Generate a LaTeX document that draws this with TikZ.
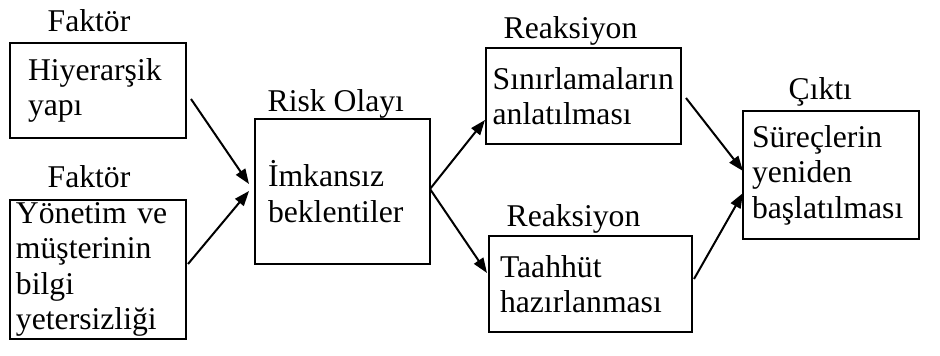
\documentclass[tikz,border=0pt]{standalone}
\usepackage{fontspec}
\setmainfont{Liberation Serif}
\usetikzlibrary{arrows.meta}
\begin{document}
\begin{tikzpicture}[
            x=0.3pt, y=-0.3pt,
            kutu/.style={rectangle, draw=black, line width=0.6pt, anchor=north west, align=left, inner ysep=0pt, font=\fontsize{9.5}{10.65}\selectfont},
            baslik/.style={anchor=base west, inner sep=0pt, font=\fontsize{9.5}{10.65}\selectfont},
            ok/.style={-{Triangle[length=4.5pt, width=3.3pt]}, line width=0.6pt},
        ]
            \useasboundingbox (0,0) rectangle (940,356);

            %Nodes
            \node[kutu, inner xsep=5.4pt, text width=42pt, minimum height=28.5pt] (hiy) at (9,42) {Hiyerarşik\\yapı};
            \node[kutu, inner xsep=1.8pt, text width=49.2pt, minimum height=41.7pt] (bilgi) at (9,199) {Yönetim ve\\müşterinin\\bilgi\\yetersizliği};

            \node[kutu, inner xsep=3.9pt, text width=44.7pt, minimum height=43.5pt] (risk) at (254,118) {İmkansız\\beklentiler};

            \node[kutu, inner xsep=2pt, text width=54.5pt, minimum height=28.8pt] (sinir) at (485,47) {Sınırlamaların\\anlatılması};
            \node[kutu, inner xsep=3.3pt, text width=54.3pt, minimum height=28.8pt] (taah) at (488,235) {Taahhüt\\hazırlanması};

            \node[kutu, inner xsep=2.7pt, text width=47.4pt, minimum height=38.4pt] (surec) at (742,110) {Süreçlerin\\yeniden\\başlatılması};

            %Titles
            \node[baslik] (fak1) at (47,32) {Faktör};
            \node[baslik] (fak2) at (47,188) {Faktör};
            \node[baslik] (olay) at (267,112) {Risk Olayı};
            \node[baslik] (reak1) at (503,39) {Reaksiyon};
            \node[baslik] (reak2) at (506,227) {Reaksiyon};
            \node[baslik] (cikti) at (788,100) {Çıktı};

            %Lines
            \draw[ok] ([shift={(4,8.5)}]hiy.east) -- ([shift={(-5,-7.5)}]risk.west);
            \draw[ok] ([shift={(1,-5.5)}]bilgi.east) -- ([shift={(-5,-0.5)}]risk.west);
            \draw[ok] ([shift={(-1,-2.5)}]risk.east) -- ([shift={(0,24)}]sinir.west);
            \draw[ok] ([shift={(-1,-2.5)}]risk.east) -- ([shift={(-1,-11)}]taah.west);
            \draw[ok] ([shift={(4,2)}]sinir.east) -- ([shift={(1,-4)}]surec.west);
            \draw[ok] ([shift={(1,-5)}]taah.east) -- ([shift={(1,18)}]surec.west);
        \end{tikzpicture}
\end{document}
